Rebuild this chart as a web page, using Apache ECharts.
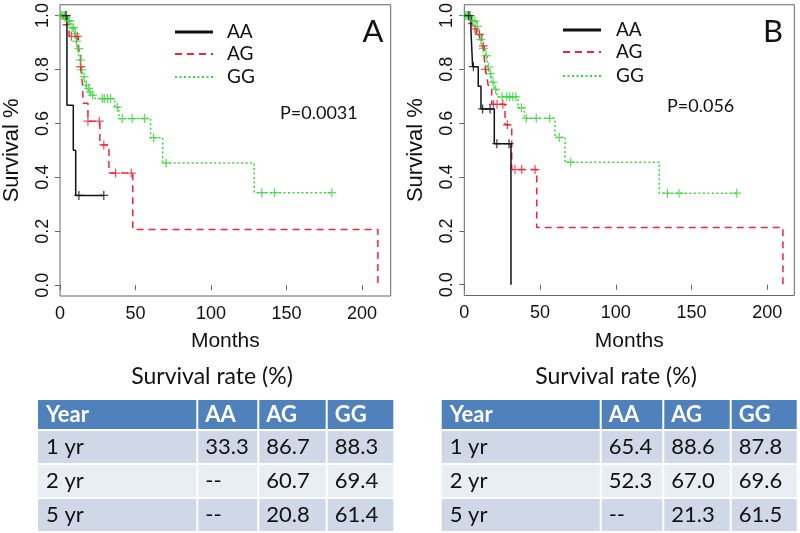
<!DOCTYPE html>
<html><head><meta charset="utf-8">
<script src="https://cdn.jsdelivr.net/npm/echarts@6/dist/echarts.min.js"></script>
<style>html,body{margin:0;padding:0;background:#fff}#c{width:800px;height:533px}</style>
</head><body><div id="c"></div>
<script>
// ---- Panel A data (Kaplan-Meier step points [months, survival]) ----
const aaA_curve = [[0,1],[4.6,0.667],[8.8,0.5],[10.4,0.333],[29,0.333]];
const aaA_cens  = [[4,1],[12.5,0.333],[29,0.333]];
const agA_curve = [[0,1],[2.2,0.966],[6,0.923],[12.2,0.871],[13.7,0.81],[14.8,0.75],[15.4,0.675],[18.5,0.608],[26.4,0.52],[32.4,0.416],[48.2,0.207],[210.5,0]];
const agA_cens  = [[7.5,0.923],[11.5,0.923],[13.7,0.81],[18.5,0.608],[26,0.608],[29,0.52],[36.8,0.416],[47.2,0.416]];
const ggA_curve = [[0,1],[4.9,0.98],[7,0.955],[9.7,0.932],[10.5,0.905],[11.5,0.877],[12.2,0.86],[13,0.835],[13.5,0.82],[14.1,0.798],[14.7,0.785],[15.5,0.773],[16.2,0.76],[17,0.743],[18,0.73],[19.2,0.716],[20.5,0.705],[22.5,0.692],[36.3,0.66],[39,0.618],[60,0.547],[68,0.453],[128.6,0.343],[180,0.343]];
const ggA_cens  = [[1,1],[2,1],[3,1],[4,1],[5.5,0.98],[6.5,0.98],[8,0.955],[9,0.955],[10.2,0.932],[11,0.905],[12.5,0.877],[13.5,0.835],[14.5,0.798],[16,0.773],[17.5,0.743],[19,0.73],[20,0.716],[21.5,0.705],[28,0.692],[29.3,0.692],[31.5,0.692],[33.5,0.692],[37.9,0.66],[41.2,0.618],[47.8,0.618],[56,0.618],[62,0.547],[70.3,0.453],[133.7,0.343],[142,0.343],[180,0.343]];
// ---- Panel B data ----
const aaB_curve = [[0,1],[4.4,0.943],[5.5,0.81],[9.2,0.737],[11,0.653],[19.8,0.524],[30.8,0]];
const aaB_cens  = [[3,1],[6,0.81],[12.1,0.653],[17,0.653],[21.5,0.524],[29.5,0.524]];
const agB_curve = [[0,1],[2.6,0.97],[5.5,0.95],[8,0.93],[11.5,0.887],[13.2,0.84],[14,0.8],[15,0.765],[16.3,0.726],[18.1,0.67],[26.9,0.594],[31.3,0.428],[47.8,0.213],[210.3,0]];
const agB_cens  = [[7,0.95],[10,0.93],[12.5,0.887],[14,0.8],[19.2,0.67],[21.6,0.67],[25.4,0.67],[28.4,0.594],[33.5,0.428],[37.9,0.428],[46.7,0.428]];
const ggB_curve = [[0,1],[4.9,0.98],[8.1,0.96],[9.2,0.93],[10.5,0.91],[11.5,0.894],[12,0.878],[13.7,0.851],[15.2,0.808],[16.5,0.784],[18,0.753],[19.8,0.726],[21.5,0.698],[35.5,0.657],[39.6,0.618],[59.9,0.547],[66.5,0.455],[128.7,0.34],[179.8,0.34]];
const ggB_cens  = [[1,1],[2,1],[3,1],[4,1],[5.5,0.98],[7,0.98],[8.6,0.96],[10,0.93],[11,0.91],[12.5,0.878],[14.5,0.851],[16,0.808],[17.2,0.784],[19,0.753],[20.6,0.726],[25,0.698],[28,0.698],[30,0.698],[32,0.698],[34,0.698],[37.7,0.657],[40.9,0.618],[47.5,0.618],[56.4,0.618],[62.7,0.547],[70.2,0.455],[134,0.34],[141.7,0.34],[179.8,0.34]];
// ---- Tick labels and text ----
const xTicks = [0,50,100,150,200];
const yTicks = [0,0.2,0.4,0.6,0.8,1.0];
const groups = ['AA','AG','GG'];
const pValues = ['P=0.0031','P=0.056'];
const panelLetters = ['A','B'];
const tableTitle = 'Survival rate (%)';
const tableHeader = ['Year','AA','AG','GG'];
const rowsA = [['1 yr','33.3','86.7','88.3'],['2 yr','--','60.7','69.4'],['5 yr','--','20.8','61.4']];
const rowsB = [['1 yr','65.4','88.6','87.8'],['2 yr','52.3','67.0','69.6'],['5 yr','--','21.3','61.5']];

const colors = {AA:'#111111', AG:'#E8283C', GG:'#3CD33C'};
const lineTypes = {AA:'solid', AG:[7,5], GG:[2,2.5]};
const plusPath = 'path://M4.3,0H5.7V4.3H10V5.7H5.7V10H4.3V5.7H0V4.3H4.3Z';
const axisFont = 'Liberation Sans, Arial, sans-serif';
const textFont = 'Lato, sans-serif';

const chart = echarts.init(document.getElementById('c'), null, {renderer:'canvas'});

const grids = [
  {left:59.3, top:3, width:331.4, height:293, show:true, borderColor:'#666', borderWidth:1},
  {left:464.3, top:2, width:330, height:293.5, show:true, borderColor:'#666', borderWidth:1}
];
const xMax = [219, 217.8];
function xAxis(i){
  return {gridIndex:i, type:'value', min:0, max:xMax[i], name:'Months', nameLocation:'middle', nameGap:35,
    nameTextStyle:{fontFamily:axisFont, fontSize:21, color:'#111'},
    axisLine:{show:false}, splitLine:{show:false},
    axisTick:{show:true, inside:false, length:5, lineStyle:{color:'#666'}, customValues:xTicks},
    axisLabel:{fontFamily:axisFont, fontSize:18, color:'#111', margin:9, customValues:xTicks}};
}
function yAxis(i){
  return {gridIndex:i, type:'value', min:-0.04, max:1.04, name:'Survival %', nameLocation:'middle', nameGap:37,
    nameTextStyle:{fontFamily:axisFont, fontSize:22, color:'#111'},
    axisLine:{show:false}, splitLine:{show:false},
    axisTick:{show:true, length:5, lineStyle:{color:'#666'}, customValues:yTicks},
    axisLabel:{fontFamily:axisFont, fontSize:18, color:'#111', margin:8, rotate:90,
      customValues:yTicks, formatter:v=>v.toFixed(1)}};
}
const data = [
  {AA:[aaA_curve,aaA_cens], AG:[agA_curve,agA_cens], GG:[ggA_curve,ggA_cens]},
  {AA:[aaB_curve,aaB_cens], AG:[agB_curve,agB_cens], GG:[ggB_curve,ggB_cens]}
];
const series = [];
[0,1].forEach(i=>{
  ['GG','AG','AA'].forEach(g=>{
    series.push({type:'line', name:g, xAxisIndex:i, yAxisIndex:i, step:'end', symbol:'none',
      data:data[i][g][0], clip:false, silent:true,
      lineStyle:{color:colors[g], width:1.5, type:lineTypes[g]}, itemStyle:{color:colors[g]}, z:g==='AA'?4:3});
    series.push({type:'scatter', name:g+' censored', xAxisIndex:i, yAxisIndex:i, symbol:plusPath, symbolSize:9,
      data:data[i][g][1], itemStyle:{color:colors[g]}, silent:true, z:g==='AA'?5:4});
  });
});

const graphic = [];
// Legends (line key + label)
const legendX = [[175,213,227],[563,601,616]];
const legendY = [[32,54,77],[30,52,76]];
[0,1].forEach(i=>{
  groups.forEach((g,k)=>{
    const y = legendY[i][k];
    graphic.push({type:'line', shape:{x1:legendX[i][0], y1:y, x2:legendX[i][1], y2:y},
      style:{stroke:colors[g], lineWidth:g==='AA'?3:1.8, lineDash:g==='AA'?null:lineTypes[g]}});
    graphic.push({type:'text', x:legendX[i][2], y:y, style:{text:g, font:'19px '+textFont, fill:'#111', verticalAlign:'middle'}});
  });
});
// P values and panel letters
const pPos = [[280,113],[667,106]];
const letterPos = [[373,32],[773,32]];
[0,1].forEach(i=>{
  graphic.push({type:'text', x:pPos[i][0], y:pPos[i][1], style:{text:pValues[i], font:'18px '+textFont, fill:'#111', verticalAlign:'middle'}});
  graphic.push({type:'text', x:letterPos[i][0], y:letterPos[i][1], style:{text:panelLetters[i], font:'31px '+textFont, fill:'#111', align:'center', verticalAlign:'middle'}});
});
// Tables
const tableCols = [[38,197.3,258.3,326.7,393.3],[441.7,600.7,663.3,730.7,796.7]];
const tableRowsY = [400,430,464,498,531];
const titleX = [212,616];
const tables = [rowsA, rowsB];
const rowFill = ['#D0D8E8','#E9EDF4','#D0D8E8'];
[0,1].forEach(t=>{
  graphic.push({type:'text', x:titleX[t], y:377, style:{text:tableTitle, font:'23px '+textFont, fill:'#111', align:'center', verticalAlign:'middle'}});
  const cols = tableCols[t];
  const allRows = [tableHeader].concat(tables[t]);
  allRows.forEach((row,r)=>{
    const y0 = tableRowsY[r], y1 = tableRowsY[r+1];
    row.forEach((cell,c)=>{
      const x0 = cols[c], x1 = cols[c+1];
      graphic.push({type:'rect', shape:{x:x0+(c>0?1:0), y:y0+(r>0?1:0), width:x1-x0-(c>0?1:0)-(c<3?1:0), height:y1-y0-(r>0?1:0)-(r<3?1:0)},
        style:{fill:r===0?'#4F81BD':rowFill[r-1]}, z:1});
      graphic.push({type:'text', x:x0+8, y:(y0+y1)/2, z:2, style:{text:cell,
        font:(r===0?'bold ':'')+'22px '+textFont, fill:r===0?'#fff':'#111', verticalAlign:'middle'}});
    });
  });
});

chart.setOption({
  animation:false,
  grid:grids,
  xAxis:[xAxis(0),xAxis(1)],
  yAxis:[yAxis(0),yAxis(1)],
  series:series,
  graphic:graphic
});
</script></body></html>
